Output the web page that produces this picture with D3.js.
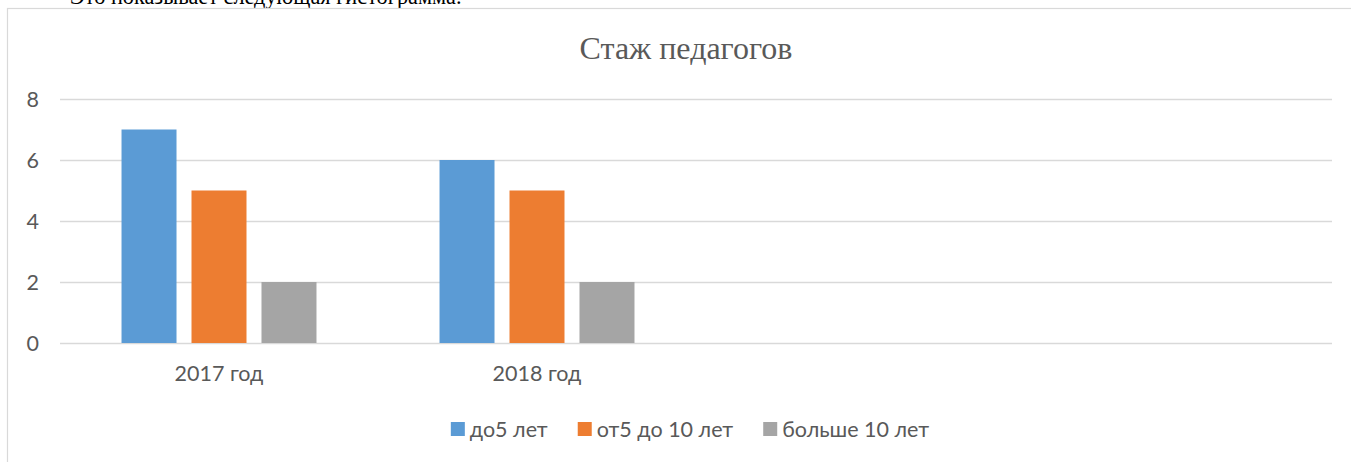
<!DOCTYPE html>
<html><head><meta charset="utf-8">
<script src="https://cdn.jsdelivr.net/npm/d3@7"></script>
<style>body{margin:0;background:#fff;}svg{display:block;}</style>
</head><body>
<svg id="c" width="1351" height="462"></svg>
<script>
const categories = ["2017 год", "2018 год", "", ""];
const seriesNames = ["до5 лет", "от5 до 10 лет", "больше 10 лет"];
const seriesColors = ["#5b9bd5", "#ed7d31", "#a5a5a5"];
const values = [
  [7, 6, null, null],
  [5, 5, null, null],
  [2, 2, null, null]
];
const yTicks = [0, 2, 4, 6, 8];
const title = "Стаж педагогов";
const pageText = "Это показывает следующая гистограмма.";

const svg = d3.select("#c");
const font = "Lato, 'Open Sans', sans-serif";
const fs = 21.5;

svg.append("text").attr("x", 70).attr("y", 4).attr("font-family", "'Liberation Serif', serif")
  .attr("font-size", 22.3).attr("fill", "#000").text(pageText);

svg.append("rect").attr("x", 7.5).attr("y", 8.5).attr("width", 1400).attr("height", 500)
  .attr("fill", "#fff").attr("stroke", "#d9d9d9").attr("stroke-width", 1.2);

svg.append("text").attr("x", 686).attr("y", 59).attr("text-anchor", "middle")
  .attr("font-family", "'Liberation Serif', serif").attr("font-size", 32).attr("fill", "#595959").text(title);

const x0 = d3.scaleBand().domain(d3.range(categories.length)).range([60, 1332]).padding(0);
const x1 = d3.scaleBand().domain(d3.range(seriesNames.length)).range([0, x0.bandwidth()])
  .paddingInner(15/70).paddingOuter(0.879);
const y = d3.scaleLinear().domain([0, 8]).range([343, 99]);

const grid = svg.append("g");
grid.selectAll("line").data(yTicks).join("line")
  .attr("x1", 60).attr("x2", 1332).attr("y1", d => Math.round(y(d)) + 0.5).attr("y2", d => Math.round(y(d)) + 0.5)
  .attr("stroke", "#d9d9d9").attr("stroke-width", 1.5);

const yAxis = d3.axisLeft(y).tickValues(yTicks).tickSize(0).tickPadding(0);
const ya = svg.append("g").attr("transform", "translate(39,0)").call(yAxis);
ya.select(".domain").remove();
ya.selectAll("text").attr("font-family", font).attr("font-size", fs).attr("fill", "#595959").attr("dy", "0.35em");

seriesNames.forEach((s, si) => {
  svg.append("g").selectAll("rect").data(values[si].map((v, ci) => ({v, ci})).filter(d => d.v != null)).join("rect")
    .attr("x", d => x0(d.ci) + x1(si)).attr("width", x1.bandwidth())
    .attr("y", d => y(d.v)).attr("height", d => y(0) - y(d.v))
    .attr("fill", seriesColors[si]);
});

const xAxis = d3.axisBottom(x0).tickFormat(i => categories[i]).tickSize(0).tickPadding(0);
const xa = svg.append("g").attr("transform", "translate(0,366)").call(xAxis);
xa.select(".domain").remove();
xa.selectAll("text").attr("font-family", font).attr("font-size", fs).attr("fill", "#595959");

// legend laid out from measured text widths, centred
const lg = svg.append("g");
const items = seriesNames.map((s, i) => {
  const g = lg.append("g");
  g.append("rect").attr("x", 0).attr("y", 422).attr("width", 14).attr("height", 14).attr("fill", seriesColors[i]);
  const t = g.append("text").attr("x", 19).attr("y", 429).attr("dy", "0.35em")
    .attr("font-family", font).attr("font-size", fs).attr("fill", "#595959").text(s);
  return {g, w: 19 + t.node().getComputedTextLength()};
});
const gap = 30;
const total = d3.sum(items, d => d.w) + gap * (items.length - 1);
let cx = 690 - total / 2;
items.forEach(it => { it.g.attr("transform", `translate(${cx},0)`); cx += it.w + gap; });
</script>
</body></html>
